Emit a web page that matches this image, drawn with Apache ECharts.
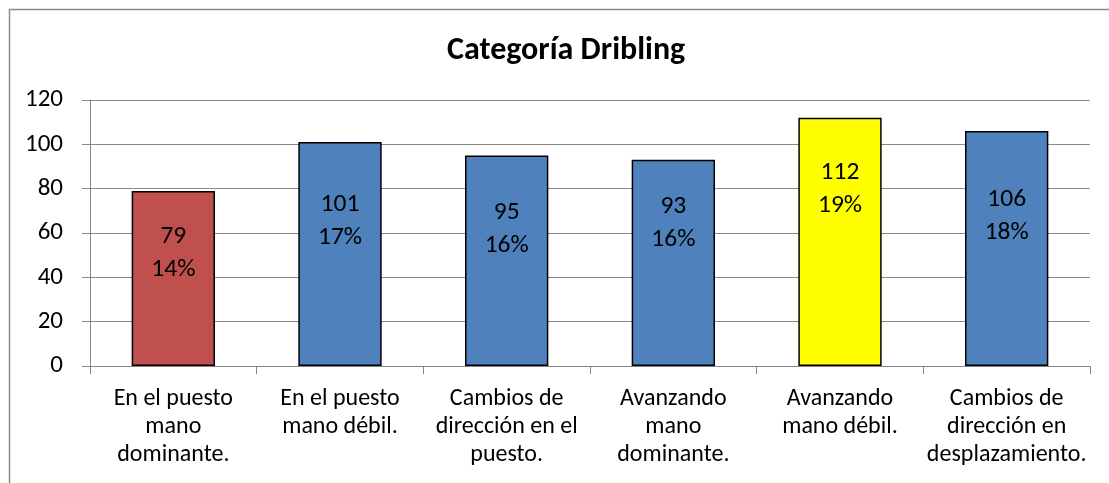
<!DOCTYPE html>
<html>
<head>
<meta charset="utf-8">
<script src="https://cdn.jsdelivr.net/npm/echarts@6/dist/echarts.min.js"></script>
<style>html,body{margin:0;padding:0;background:#fff}#c{width:1109px;height:483px}</style>
</head>
<body>
<div id="c"></div>
<script>
const title = "Categoría Dribling";
const categories = [
  "En el puesto\nmano\ndominante.",
  "En el puesto\nmano débil.",
  "Cambios de\ndirección en el\npuesto.",
  "Avanzando\nmano\ndominante.",
  "Avanzando\nmano débil.",
  "Cambios de\ndirección en\ndesplazamiento."
];
const values = [79, 101, 95, 93, 112, 106];
const percents = ["14%", "17%", "16%", "16%", "19%", "18%"];
const yTicks = [0, 20, 40, 60, 80, 100, 120];

const colors = ["#C0504D", "#4F81BD", "#4F81BD", "#4F81BD", "#FFFF00", "#4F81BD"];
const labelShift = [-25, -33, -32, -40, -53, -32];
const FONT = "Carlito, Lato, sans-serif";

const chart = echarts.init(document.getElementById('c'), null, {renderer: 'canvas'});
chart.setOption({
  animation: false,
  backgroundColor: '#fff',
  graphic: [{
    type: 'rect', left: 7, top: 7, silent: true,
    shape: {width: 1130, height: 520},
    style: {fill: 'none', stroke: '#8a8a8a', lineWidth: 1.5}
  }],
  title: {
    text: title, left: 442, top: 30,
    textStyle: {fontFamily: FONT, fontSize: 32, fontWeight: 'bold', color: '#000'}
  },
  grid: {left: 90, right: 19, top: 100, bottom: 117, containLabel: false},
  xAxis: {
    type: 'category', data: categories,
    axisLine: {lineStyle: {color: '#868686', width: 1}},
    axisTick: {show: true, length: 8, lineStyle: {color: '#868686'}},
    axisLabel: {fontFamily: FONT, fontSize: 24, color: '#000', lineHeight: 28, margin: 19, interval: 0}
  },
  yAxis: {
    type: 'value', min: yTicks[0], max: yTicks[yTicks.length - 1], interval: 20,
    axisLine: {show: true, lineStyle: {color: '#868686', width: 1}},
    axisTick: {show: true, length: 8, lineStyle: {color: '#868686'}},
    axisLabel: {fontFamily: FONT, fontSize: 25, color: '#000', margin: 27},
    splitLine: {lineStyle: {color: '#8a8a8a', width: 1.2}}
  },
  series: [{
    type: 'bar', barWidth: '50%',
    data: values.map((v, i) => ({
      value: v,
      itemStyle: {color: colors[i], borderColor: '#000', borderWidth: 1.5},
      label: {offset: [0, labelShift[i]]}
    })),
    label: {
      show: true, position: 'inside',
      fontFamily: FONT, fontSize: 25.5, lineHeight: 33, color: '#000',
      formatter: p => p.value + "\n" + percents[p.dataIndex]
    }
  }]
});
</script>
</body>
</html>
